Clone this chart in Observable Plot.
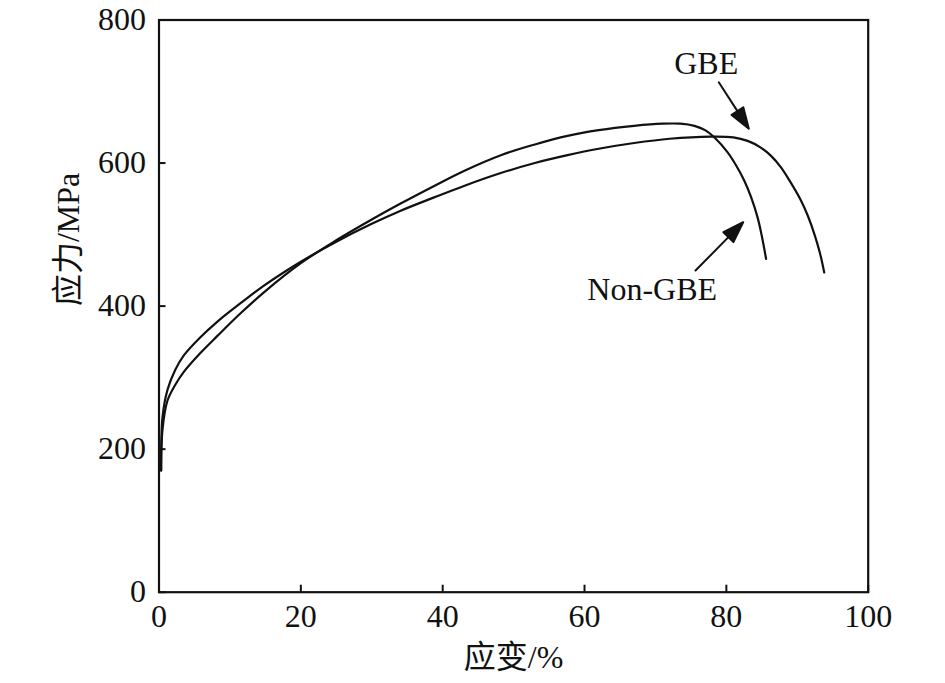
<!DOCTYPE html>
<html>
<head>
<meta charset="utf-8">
<script src="https://cdn.jsdelivr.net/npm/d3@7"></script>
<script src="https://cdn.jsdelivr.net/npm/@observablehq/plot@0.6"></script>
<style>
  html, body { margin: 0; padding: 0; background: #fff; }
  #chart { width: 945px; height: 683px; }
</style>
</head>
<body>
<div id="chart"></div>
<script>
// ---- data (strain %, stress MPa) ----
const nonGbeStrain = [0.3, 0.5, 1.2, 2.3, 3.5, 5.8, 8.2, 11.5, 15, 20, 25, 30, 34, 38.8, 43, 48.2, 53, 57.6, 62, 67, 71, 73.5, 75.5, 77, 78.5, 80.1, 81.3, 82.5, 83.5, 84.4, 85, 85.6];
const nonGbeStress = [170, 228, 268, 290, 308, 334, 358, 390, 421, 460, 492, 521, 543, 568, 589, 611, 626, 638, 646, 652, 655, 655, 652, 646, 634, 616, 598, 576, 552, 524, 498, 466];

const gbeStrain = [0.3, 0.5, 1.2, 2.3, 3.5, 5.8, 8.2, 11.5, 15, 20, 25, 30, 34, 38.8, 43, 48.2, 53, 57.6, 62, 67, 72, 77.8, 81, 83, 84.8, 86.3, 87.7, 89, 90.5, 91.5, 92.4, 93.2, 93.8];
const gbeStress = [170, 245, 283, 311, 331, 356, 378, 404, 430, 462, 490, 515, 533, 552, 568, 586, 600, 611, 620, 628, 634, 637, 636, 631, 622, 610, 594, 574, 548, 526, 501, 474, 447];

const xTicks = [0, 20, 40, 60, 80, 100];
const yTicks = [0, 200, 400, 600, 800];
const xLabel = "应变/%";
const yLabel = "应力/MPa";

// annotations: label position and arrow (data units)
const labels = [
  {text: "GBE", x: 77.16, y: 739},
  {text: "Non-GBE", x: 69.54, y: 423}
];
const arrows = [
  {x1: 78.93, y1: 713, x2: 83.17, y2: 648},
  {x1: 75.65, y1: 449.7, x2: 82.37, y2: 517.3}
];

// ---- layout ----
const W = 945, H = 683;
const mt = 19.5, mb = 91.3, ml = 158.5, mr = 77.3;
const kx = (W - ml - mr) / 100, ky = (H - mt - mb) / 800;
const font = "'Liberation Serif', 'Times New Roman', 'Noto Sans CJK SC', serif";

const nonGbe = nonGbeStrain.map((x, i) => ({x, y: nonGbeStress[i]}));
const gbe = gbeStrain.map((x, i) => ({x, y: gbeStress[i]}));

const headShape = {
  draw(ctx, l) {
    const h = 21, w = 7;
    ctx.moveTo(0, 0);
    ctx.lineTo(0, -l + h);
    ctx.moveTo(0, -l);
    ctx.lineTo(-w, -l + h);
    ctx.lineTo(w, -l + h);
    ctx.closePath();
  }
};

const arrowMarks = arrows.map(a => {
  const dx = (a.x2 - a.x1) * kx, dy = (a.y2 - a.y1) * ky;
  const len = Math.hypot(dx, dy);
  const rot = Math.atan2(dx, dy) * 180 / Math.PI;
  return Plot.vector([a], {x: "x1", y: "y1", length: len, rotate: rot, anchor: "start",
    shape: headShape, stroke: "#111", fill: "#111", strokeWidth: 2});
});

const plot = Plot.plot({
  width: W, height: H,
  marginTop: mt, marginBottom: mb, marginLeft: ml, marginRight: mr,
  style: {fontFamily: font, background: "#fff", color: "#111"},
  x: {domain: [0, 100], label: null},
  y: {domain: [0, 800], label: null},
  marks: [
    Plot.axisX({ticks: xTicks, tickSize: 0, tickPadding: 12, fontSize: 32, label: null, fill: "#111"}),
    Plot.axisY({ticks: yTicks, tickSize: 0, tickPadding: 13, fontSize: 32, label: null, fill: "#111"}),
    Plot.tickX(xTicks, {x: d => d, insetTop: (H - mt - mb) - 7, stroke: "#111", strokeWidth: 2}),
    Plot.tickY(yTicks, {y: d => d, insetRight: (W - ml - mr) - 7, stroke: "#111", strokeWidth: 2}),
    Plot.line(nonGbe, {x: "x", y: "y", curve: "catmull-rom", stroke: "#111", strokeWidth: 2.2}),
    Plot.line(gbe, {x: "x", y: "y", curve: "catmull-rom", stroke: "#111", strokeWidth: 2.2}),
    ...arrowMarks,
    Plot.text(labels, {x: "x", y: "y", text: "text", fontSize: 32, fill: "#111", textAnchor: "middle", lineAnchor: "middle"}),
    Plot.text([xLabel], {frameAnchor: "bottom", dy: 66, fontSize: 32, fill: "#111", lineAnchor: "middle"}),
    Plot.text([yLabel], {frameAnchor: "left", dx: -90, rotate: -90, fontSize: 32, fill: "#111", lineAnchor: "middle"}),
    Plot.frame({stroke: "#111", strokeWidth: 2.2})
  ]
});
document.getElementById("chart").appendChild(plot);
</script>
</body>
</html>
